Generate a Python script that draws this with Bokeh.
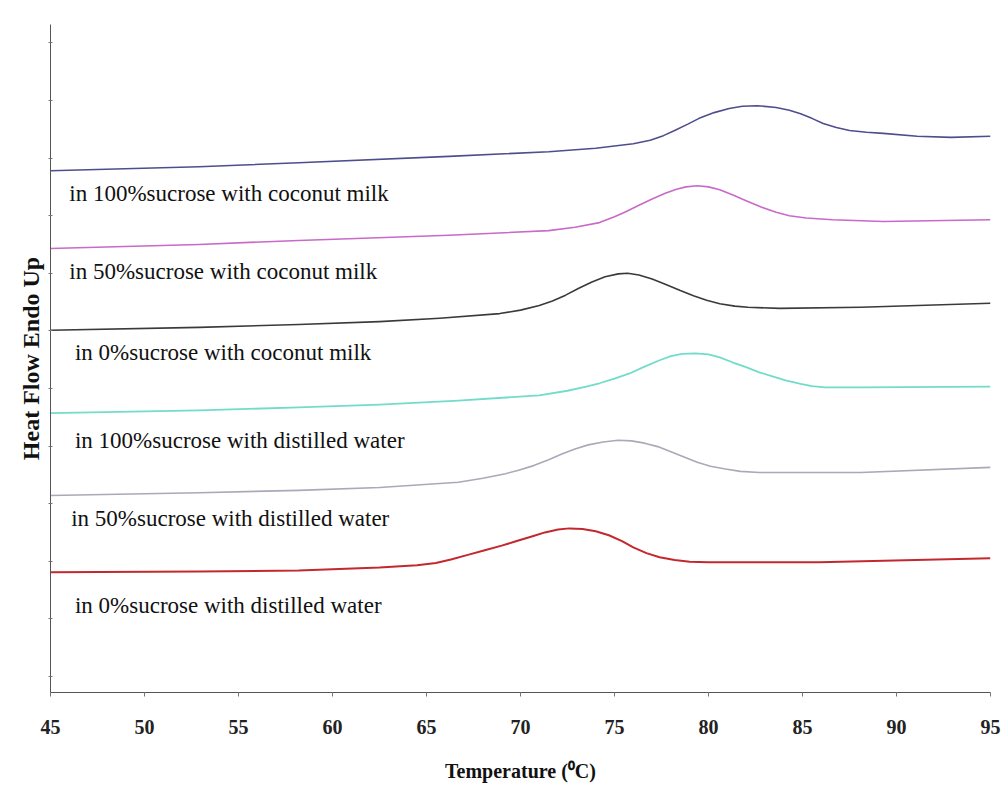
from bokeh.plotting import figure
from bokeh.models import FixedTicker, Range1d, CustomJSTickFormatter
from bokeh.core.properties import value
from bokeh.embed import file_html
from bokeh.resources import INLINE

# Temperature (°C) and heat flow (arbitrary units, endo up)
t_cm100 = [45.0, 52.9, 58.2, 66.2, 71.5, 74.0, 76.0, 76.9, 77.6, 78.2, 78.9, 79.5, 80.3, 81.1, 81.8, 82.6, 83.6, 84.3, 84.9, 85.5, 86.1, 86.8, 87.5, 88.4, 89.3, 91.1, 92.9, 95.0]
h_cm100 = [8.78, 8.85, 8.92, 9.03, 9.11, 9.17, 9.25, 9.31, 9.39, 9.48, 9.59, 9.69, 9.79, 9.86, 9.90, 9.91, 9.88, 9.83, 9.77, 9.69, 9.60, 9.53, 9.48, 9.45, 9.43, 9.38, 9.36, 9.38]

t_cm50 = [45.0, 52.9, 58.2, 66.2, 71.5, 72.9, 74.2, 75.0, 75.6, 76.3, 77.0, 77.7, 78.3, 78.8, 79.4, 80.0, 80.6, 81.3, 82.0, 82.8, 83.6, 84.3, 85.2, 86.6, 89.3, 95.0]
h_cm50 = [7.43, 7.50, 7.57, 7.66, 7.74, 7.80, 7.88, 7.98, 8.07, 8.18, 8.29, 8.39, 8.46, 8.50, 8.52, 8.50, 8.45, 8.36, 8.26, 8.15, 8.06, 8.00, 7.96, 7.93, 7.90, 7.93]

t_cm0 = [45.0, 52.9, 58.2, 62.5, 65.7, 68.9, 70.0, 71.0, 71.7, 72.4, 73.1, 73.8, 74.5, 75.2, 75.7, 76.3, 77.0, 77.7, 78.5, 79.2, 79.9, 80.6, 81.4, 82.1, 83.8, 88.1, 95.0]
h_cm0 = [6.01, 6.06, 6.11, 6.16, 6.22, 6.30, 6.36, 6.44, 6.52, 6.62, 6.74, 6.85, 6.94, 6.99, 7.00, 6.97, 6.90, 6.81, 6.70, 6.61, 6.53, 6.47, 6.43, 6.41, 6.39, 6.41, 6.48]

t_dw100 = [45.0, 52.9, 58.2, 62.5, 66.7, 71.0, 72.5, 73.5, 74.2, 75.0, 75.8, 76.6, 77.4, 78.0, 78.6, 79.3, 80.0, 80.6, 81.3, 82.0, 82.7, 83.4, 84.1, 84.9, 85.5, 86.2, 88.1, 95.0]
h_dw100 = [4.57, 4.62, 4.67, 4.72, 4.79, 4.88, 4.96, 5.03, 5.09, 5.17, 5.26, 5.38, 5.49, 5.56, 5.60, 5.61, 5.59, 5.54, 5.45, 5.37, 5.28, 5.21, 5.14, 5.08, 5.04, 5.02, 5.02, 5.03]

t_dw50 = [45.0, 52.9, 58.2, 62.5, 66.7, 68.0, 69.2, 69.9, 70.7, 71.5, 72.2, 72.9, 73.6, 74.4, 75.2, 75.9, 76.6, 77.3, 78.0, 78.7, 79.4, 80.1, 80.9, 81.7, 82.7, 88.1, 95.0]
h_dw50 = [3.14, 3.19, 3.23, 3.28, 3.37, 3.44, 3.52, 3.58, 3.66, 3.76, 3.86, 3.95, 4.02, 4.07, 4.10, 4.09, 4.05, 3.99, 3.90, 3.81, 3.72, 3.65, 3.60, 3.56, 3.54, 3.54, 3.63]

t_dw0 = [45.0, 52.9, 58.2, 62.5, 64.5, 65.5, 66.3, 67.2, 68.1, 69.0, 69.8, 70.6, 71.3, 72.0, 72.6, 73.3, 74.0, 74.7, 75.4, 76.0, 76.7, 77.4, 78.2, 79.0, 80.0, 85.9, 95.0]
h_dw0 = [1.81, 1.82, 1.84, 1.89, 1.93, 1.97, 2.03, 2.11, 2.19, 2.27, 2.35, 2.43, 2.50, 2.55, 2.57, 2.56, 2.52, 2.45, 2.35, 2.24, 2.14, 2.07, 2.02, 1.99, 1.98, 1.98, 2.05]

labels = [
    "in 100%sucrose with coconut milk",
    "in 50%sucrose with coconut milk",
    "in 0%sucrose with coconut milk",
    "in 100%sucrose with distilled water",
    "in 50%sucrose with distilled water",
    "in 0%sucrose with distilled water",
]
label_t = [46.0, 46.0, 46.3, 46.3, 46.1, 46.3]
label_h = [8.39, 7.03, 5.63, 4.10, 2.74, 1.23]

x_ticks = [45, 50, 55, 60, 65, 70, 75, 80, 85, 90, 95]
y_ticks = [0, 1, 2, 3, 4, 5, 6, 7, 8, 9, 10, 11]

series = [
    (t_cm100, h_cm100, "#4e4e8e", 1.6),
    (t_cm50, h_cm50, "#c86ac8", 1.6),
    (t_cm0, h_cm0, "#3a3a3a", 1.6),
    (t_dw100, h_dw100, "#72dccb", 1.8),
    (t_dw50, h_dw50, "#a9a9b8", 1.6),
    (t_dw0, h_dw0, "#c3282e", 2.0),
]

p = figure(width=1006, height=785, output_backend="svg", toolbar_location=None,
           x_range=Range1d(45, 95), y_range=Range1d(-0.28, 11.32),
           min_border_left=50, min_border_right=16, min_border_top=24, min_border_bottom=93)
p.frame_width = 940
p.frame_height = 668
p.outline_line_color = None
p.xgrid.visible = False
p.ygrid.visible = False
p.background_fill_color = "white"
p.border_fill_color = "white"

for t, h, c, w in series:
    p.line(t, h, line_color=c, line_width=w, line_join="round")

p.text(x=label_t, y=label_h, text=labels, text_font=value("Liberation Serif"),
       text_font_size="23px", text_baseline="middle", text_align="left", text_color="#111111")

serif = "Liberation Serif"
ax = p.xaxis[0]
ax.ticker = FixedTicker(ticks=x_ticks)
ax.minor_tick_line_color = None
ax.major_tick_in = 0
ax.major_tick_out = 4
ax.axis_line_color = "#555555"
ax.major_tick_line_color = "#777777"
ax.major_label_text_font = serif
ax.major_label_text_font_style = "bold"
ax.major_label_text_font_size = "20px"
ax.major_label_text_color = "#222222"
ax.major_label_standoff = 23
ax.axis_label = "Temperature (\u2070C)"
ax.axis_label_text_font = serif
ax.axis_label_text_font_style = "bold"
ax.axis_label_text_font_size = "20px"
ax.axis_label_text_color = "#111111"
ax.axis_label_standoff = 23

ay = p.yaxis[0]
ay.ticker = FixedTicker(ticks=y_ticks)
ay.formatter = CustomJSTickFormatter(code="return '';")
ay.minor_tick_line_color = None
ay.major_tick_in = 2
ay.major_tick_out = 2
ay.axis_line_color = "#555555"
ay.major_tick_line_color = "#777777"
ay.major_label_standoff = 0
ay.axis_label = "Heat Flow Endo Up"
ay.axis_label_text_font = serif
ay.axis_label_text_font_style = "bold"
ay.axis_label_text_font_size = "24px"
ay.axis_label_text_color = "#111111"
ay.axis_label_standoff = 5

open("out.html", "w").write(file_html(p, INLINE))
